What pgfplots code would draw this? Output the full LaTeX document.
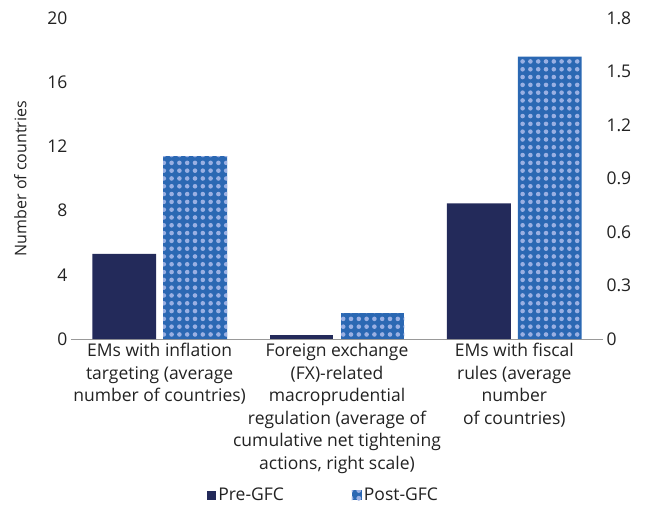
\documentclass[border=0pt]{standalone}
\usepackage{pgfplots}
\pgfplotsset{compat=1.18}
\usepackage{fontspec}
\setmainfont{Open Sans}
\usetikzlibrary{patterns}
\definecolor{pre}{HTML}{232A5A}
\definecolor{post}{HTML}{2B68B3}
\definecolor{dotc}{HTML}{9AB0E3}
\definecolor{txt}{HTML}{222222}
\pgfdeclarepatternformonly{bigdots}{\pgfqpoint{-3bp}{-3bp}}{\pgfqpoint{3bp}{3bp}}{\pgfqpoint{7.8bp}{7.8bp}}{\pgfpathcircle{\pgfpointorigin}{2.3bp}\pgfusepath{fill}}
\begin{document}
\begin{tikzpicture}
\pgfplotsset{every axis/.append style={font=\fontsize{17.5bp}{22.5bp}\selectfont, text=txt}}
\begin{axis}[name=ax1, scale only axis, width=532bp, height=321bp,
  xmin=-0.5, xmax=2.5, ymin=0, ymax=20,
  axis x line*=bottom, axis y line*=left,
  x axis line style={draw=gray!80, line width=1pt, -},
  y axis line style={draw=none},
  major tick length=0pt,
  ytick={0,4,8,12,16,20},
  xtick={0,1,2},
  xticklabels={EMs with inflation\\targeting (average\\number of countries),
    Foreign exchange\\(FX)-related\\macroprudential\\regulation (average of\\cumulative net tightening\\actions{,} right scale),
    EMs with fiscal\\rules (average\\number\\of countries)},
  xticklabel style={align=center, anchor=north, yshift=-1bp},
  /pgf/number format/assume math mode=true,
  ylabel={Number of countries},
  ylabel style={yshift=14bp, font=\fontsize{16bp}{18bp}\selectfont},
  legend style={at={(0.475,-0.486)}, anchor=center, draw=none, legend columns=2,
    /tikz/every even column/.append style={column sep=66bp}},
  legend cell align=left,
]
\addplot[ybar, bar width=0.36, bar shift=-0.2, fill=pre, draw=none,
  legend image code/.code={\fill[pre] (0,-4.5bp) rectangle (9bp,4.5bp);}]
  coordinates {(0,5.3) (2,8.45)};
\addlegendentry{Pre-GFC}
\addplot[ybar, bar width=0.36, bar shift=0.2, fill=post, draw=none,
  postaction={pattern=bigdots, pattern color=dotc},
  legend image code/.code={\fill[post, postaction={pattern=bigdots, pattern color=dotc}] (0,-5bp) rectangle (10bp,5bp);}]
  coordinates {(0,11.4) (2,17.6)};
\addlegendentry{Post-GFC}
\end{axis}
\begin{axis}[scale only axis, width=532bp, height=321bp,
  at={(ax1.south west)}, anchor=south west,
  xmin=-0.5, xmax=2.5, ymin=0, ymax=1.8,
  axis x line=none, axis y line*=right,
  y axis line style={draw=none},
  major tick length=0pt,
  ytick={0,0.3,0.6,0.9,1.2,1.5,1.8},
  yticklabels={0,0.3,0.6,0.9,1.2,1.5,1.8},
]
\addplot[ybar, bar width=0.36, bar shift=-0.2, fill=pre, draw=none]
  coordinates {(1,0.022)};
\addplot[ybar, bar width=0.36, bar shift=0.2, fill=post, draw=none,
  postaction={pattern=bigdots, pattern color=dotc}]
  coordinates {(1,0.144)};
\end{axis}
\path ([xshift=-71bp, yshift=-167bp]ax1.south west) rectangle ++(648bp,506bp);
\end{tikzpicture}
\end{document}
